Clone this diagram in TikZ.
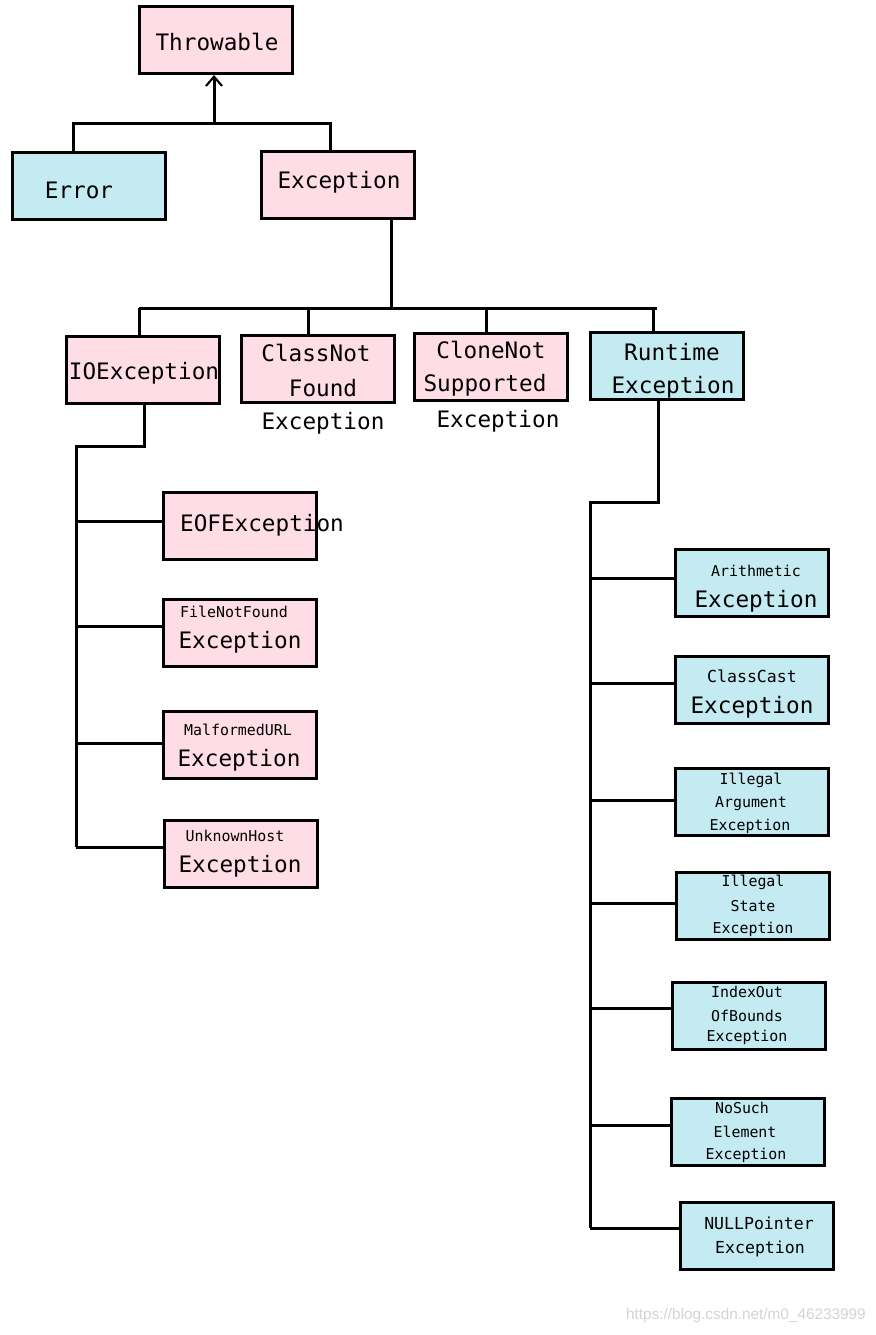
\documentclass[tikz,border=0pt]{standalone}
\usepackage{fontspec}
\setmainfont{DejaVu Sans Mono}
\newfontfamily\wmfont{Liberation Sans}
\usetikzlibrary{arrows.meta}
\definecolor{boxpink}{RGB}{255,221,230}
\definecolor{boxblue}{RGB}{196,234,242}
\definecolor{wmgrey}{RGB}{212,212,212}
\begin{document}
\begin{tikzpicture}[x=0.75pt,y=-0.75pt,
  box/.style={draw=black, line width=2.25pt, minimum width=114.75pt, minimum height=50.25pt, inner sep=0pt},
  pinkbox/.style={box, fill=boxpink},
  bluebox/.style={box, fill=boxblue},
  big/.style={font=\fontsize{17}{20}\selectfont, inner sep=0pt},
  small/.style={font=\fontsize{11.2}{13}\selectfont, inner sep=0pt},
  mid/.style={font=\fontsize{12.4}{14}\selectfont, inner sep=0pt},
  link/.style={line width=2.25pt}]
\useasboundingbox (0,0) rectangle (875,1335);
\fill[white] (0,0) rectangle (875,1335);

% boxes
\node[pinkbox] (thr) at (216,40) {};
\node[bluebox] (err) at (89,186) {};
\node[pinkbox] (exc) at (338,185) {};
\node[pinkbox] (ioe) at (143,370) {};
\node[pinkbox] (cnf) at (318,369) {};
\node[pinkbox] (cns) at (491,367) {};
\node[bluebox] (rte) at (667,366) {};
\node[pinkbox] (eof) at (239.5,526) {};
\node[pinkbox] (fnf) at (239.5,633) {};
\node[pinkbox] (mal) at (239.5,745) {};
\node[pinkbox] (uhe) at (241,854) {};
\node[bluebox] (ari) at (752,583) {};
\node[bluebox] (ccs) at (752,690) {};
\node[bluebox] (iae) at (752,802) {};
\node[bluebox] (ise) at (753,906) {};
\node[bluebox] (iob) at (749,1016) {};
\node[bluebox] (nse) at (748,1132) {};
\node[bluebox] (npe) at (757,1236) {};

% texts
\node[big] (tthr) at (217,42) {Throwable};
\node[big] (terr) at (79,190) {Error};
\node[big] (texc) at (339,182) {Exception};
\node[big] (tioe) at (144,373) {IOException};
\node[big] (tcnf1) at (316,353) {ClassNot};
\node[big] (tcnf2) at (323,388) {Found};
\node[big] (tcnf3) at (323,423) {Exception};
\node[big] (tcns1) at (491,350) {CloneNot};
\node[big] (tcns2) at (485,385) {Supported};
\node[big] (tcns3) at (498,421) {Exception};
\node[big] (trte1) at (672,352) {Runtime};
\node[big] (trte2) at (673,387) {Exception};
\node[big] (teof) at (262,525) {EOFException};
\node[small] (tfnf1) at (234,612) {FileNotFound};
\node[big] (tfnf2) at (240,642) {Exception};
\node[small] (tmal1) at (238,730) {MalformedURL};
\node[big] (tmal2) at (239,760) {Exception};
\node[small] (tuhe1) at (235,836) {UnknownHost};
\node[big] (tuhe2) at (240,866) {Exception};
\node[small] (tari1) at (756,571) {Arithmetic};
\node[big] (tari2) at (756,601) {Exception};
\node[mid] (tccs1) at (752,676) {ClassCast};
\node[big] (tccs2) at (752,707) {Exception};
\node[small] (tiae1) at (751,780) {Illegal};
\node[small] (tiae2) at (751,804) {Argument};
\node[small] (tiae3) at (750,826) {Exception};
\node[small] (tise1) at (753,882) {Illegal};
\node[small] (tise2) at (753,906) {State};
\node[small] (tise3) at (753,929) {Exception};
\node[small] (tiob1) at (747,992) {IndexOut};
\node[small] (tiob2) at (747,1016) {OfBounds};
\node[small] (tiob3) at (747,1037) {Exception};
\node[small] (tnse1) at (742,1108) {NoSuch};
\node[small] (tnse2) at (745,1132) {Element};
\node[small] (tnse3) at (746,1155) {Exception};
\node[mid] (tnpe1) at (759,1223) {NULLPointer};
\node[mid] (tnpe2) at (760,1249) {Exception};

% watermark
\node[font=\wmfont\fontsize{11.5}{13}\selectfont, text=wmgrey, anchor=east, inner sep=0pt] (wm) at (866,1316) {https://blog.csdn.net/m0\_46233999};

% connectors: Throwable level
\coordinate (tj) at (214,123);
\coordinate (ta) at (73,123);
\coordinate (tb) at (330,123);
\draw[link, -{Straight Barb[length=7pt,width=12pt,line width=1.6pt]}] (tj) -- (tj |- thr.south);
\draw[link] (err.north -| ta) -- (ta) -- (tb) -- (exc.north -| tb);

% Exception level
\coordinate (ej) at (391,308);
\coordinate (e1) at (139,308);
\coordinate (e2) at (308,308);
\coordinate (e3) at (486,308);
\coordinate (e4) at (653,308);
\coordinate (e5) at (657,308);
\draw[link] (exc.south -| ej) -- (ej);
\draw[link] (e1) -- (e5);
\draw[link] (e1) -- (ioe.north -| e1);
\draw[link] (e2) -- (cnf.north -| e2);
\draw[link] (e3) -- (cns.north -| e3);
\draw[link] (e4) -- (rte.north -| e4);

% IOException subtree
\coordinate (ia) at (144,446);
\coordinate (ib) at (76,446);
\coordinate (i1) at (76,521);
\coordinate (i2) at (76,626);
\coordinate (i3) at (76,743);
\coordinate (i4) at (76,847);
\draw[link] (ioe.south -| ia) -- (ia) -- (ib) -- (i4);
\draw[link] (i1) -- (i1 -| eof.west);
\draw[link] (i2) -- (i2 -| fnf.west);
\draw[link] (i3) -- (i3 -| mal.west);
\draw[link] (i4) -- (i4 -| uhe.west);

% RuntimeException subtree
\coordinate (ra) at (658,502);
\coordinate (rb) at (590,502);
\coordinate (r1) at (590,578);
\coordinate (r2) at (590,683);
\coordinate (r3) at (590,800);
\coordinate (r4) at (590,903);
\coordinate (r5) at (590,1008);
\coordinate (r6) at (590,1125);
\coordinate (r7) at (590,1228);
\draw[link] (rte.south -| ra) -- (ra) -- (rb) -- (r7);
\draw[link] (r1) -- (r1 -| ari.west);
\draw[link] (r2) -- (r2 -| ccs.west);
\draw[link] (r3) -- (r3 -| iae.west);
\draw[link] (r4) -- (r4 -| ise.west);
\draw[link] (r5) -- (r5 -| iob.west);
\draw[link] (r6) -- (r6 -| nse.west);
\draw[link] (r7) -- (r7 -| npe.west);
\end{tikzpicture}
\end{document}
